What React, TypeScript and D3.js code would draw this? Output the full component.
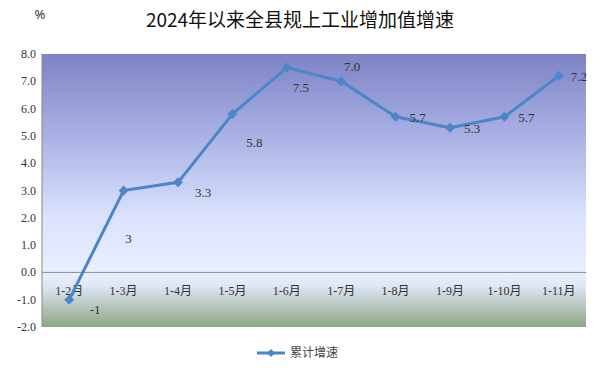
import React from "react";
import * as d3 from "d3";

const categories = ["1-2月", "1-3月", "1-4月", "1-5月", "1-6月", "1-7月", "1-8月", "1-9月", "1-10月", "1-11月"];
const values = [-1, 3, 3.3, 5.8, 7.5, 7.0, 5.7, 5.3, 5.7, 7.2];
const valueLabels = ["-1", "3", "3.3", "5.8", "7.5", "7.0", "5.7", "5.3", "5.7", "7.2"];
const yTicks = [-2, -1, 0, 1, 2, 3, 4, 5, 6, 7, 8];
const labelDx = [26, 5, 25, 22, 14, 11, 22, 22, 22, 20];
const labelDy = [14, 52, 15, 33, 24, -10, 5, 5, 5, 5];
const title = "2024年以来全县规上工业增加值增速";
const seriesName = "累计增速";

export default function App() {
  const W = 603, H = 377;
  const left = 42, right = 586, top = 54, bottom = 327;
  const x = d3.scaleBand<string>().domain(categories).range([left, right]);
  const y = d3.scaleLinear().domain([-2, 8]).range([bottom, top]);
  const cx = (c: string) => (x(c) ?? 0) + x.bandwidth() / 2;
  const line = d3.line<number>().x((_, i) => cx(categories[i])).y((v) => y(v));
  const serif = "'Liberation Serif', 'Noto Sans CJK SC', serif";
  const diamond = (px: number, py: number, r: number) =>
    `M${px},${py - r}L${px + r},${py}L${px},${py + r}L${px - r},${py}Z`;
  const zeroFrac = (y(0) - top) / (bottom - top);
  return (
    <svg width={W} height={H} style={{ position: "absolute", left: 0, top: 0, background: "#fff" }}>
      <defs>
        <linearGradient id="bg" x1="0" y1="0" x2="0" y2="1">
          <stop offset="0" stopColor="#7d83c5" />
          <stop offset="0.3" stopColor="#a9b1e4" />
          <stop offset="0.6" stopColor="#dbe3fd" />
          <stop offset={zeroFrac} stopColor="#e9efff" />
          <stop offset={zeroFrac + 0.05} stopColor="#dfe6f4" />
          <stop offset="1" stopColor="#8da787" />
        </linearGradient>
      </defs>
      <text x={40} y={19} fontSize={13} fill="#333" fontFamily="'Noto Sans', sans-serif" textAnchor="middle">%</text>
      <text x={300} y={27} fontSize={19} fill="#111" fontFamily="'Noto Sans CJK SC', sans-serif" textAnchor="middle">{title}</text>
      <rect x={left} y={top} width={right - left} height={bottom - top} fill="url(#bg)" />
      <line x1={left} x2={left} y1={top} y2={bottom} stroke="#888" strokeWidth={1} />
      <line x1={left} x2={right} y1={y(0)} y2={y(0)} stroke="#8a8a8a" strokeWidth={1} />
      {yTicks.map((t) => (
        <text key={t} x={36} y={y(t) + 4} fontSize={12} fill="#333" fontFamily={serif} textAnchor="end">
          {t.toFixed(1)}
        </text>
      ))}
      {categories.map((c) => (
        <text key={c} x={cx(c)} y={295} fontSize={12} fill="#333" fontFamily={serif} textAnchor="middle">
          {c}
        </text>
      ))}
      <path d={line(values) ?? ""} fill="none" stroke="#4a86c8" strokeWidth={3} strokeLinejoin="round" />
      {values.map((v, i) => (
        <path key={i} d={diamond(cx(categories[i]), y(v), 5)} fill="#4a86c8" />
      ))}
      {values.map((v, i) => (
        <text key={"l" + i} x={cx(categories[i]) + labelDx[i]} y={y(v) + labelDy[i]} fontSize={13} fill="#333"
          fontFamily={serif} textAnchor="middle">
          {valueLabels[i]}
        </text>
      ))}
      <line x1={257} x2={285} y1={353} y2={353} stroke="#4a86c8" strokeWidth={3} />
      <path d={diamond(271, 353, 4)} fill="#4a86c8" />
      <text x={290} y={357} fontSize={12} fill="#444" fontFamily="'Noto Sans CJK SC', sans-serif">{seriesName}</text>
    </svg>
  );
}
